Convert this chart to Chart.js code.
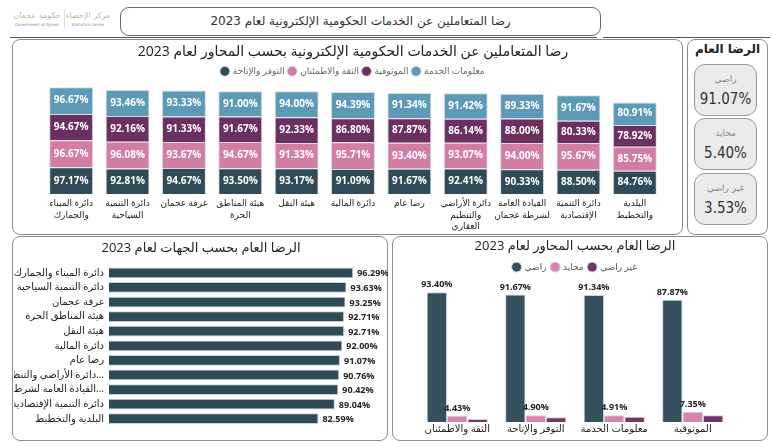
<!DOCTYPE html>
<html>
<head>
<meta charset="utf-8">
<script src="https://cdn.jsdelivr.net/npm/chart.js@4.4.0/dist/chart.umd.min.js"></script>
<style>
body{margin:0;background:#fff;width:772px;height:447px;position:relative;overflow:hidden;font-family:'Segoe UI','DejaVu Sans',sans-serif}
.box{position:absolute;border:1px solid #8c8c8c;border-radius:8px;box-sizing:border-box;background:#fff}
canvas{position:absolute}
.hline{position:absolute;height:1px;background:#555}
.logo{position:absolute;color:#c6b89b;font-size:8px;text-align:center;line-height:12px;white-space:nowrap}
.logo small{display:block;font-size:4px;line-height:6px;color:#888}
#title{left:120px;top:7px;width:481px;height:29px;border-color:#666;border-radius:9px;text-align:center;line-height:27px;font-size:12px;color:#333}
.kpiTitle{position:absolute;left:687px;top:42px;width:81px;text-align:center;font-weight:bold;font-size:12px;color:#222}
.card{position:absolute;left:694px;width:63px;height:52px;background:#ebebeb;border:1px solid #9a9a9a;border-radius:11px;box-sizing:border-box;text-align:center}
.card .lab{margin-top:9px;font-size:9px;color:#8a8a8a;height:14px}
.card .val{margin-top:2px;font-family:'Liberation Sans Narrow','DejaVu Sans Condensed',sans-serif;font-size:15px;color:#333}
</style>
</head>
<body>
<div class="logo" style="left:12px;top:10px;width:50px">حكومة عجمان<small>Government of Ajman</small></div>
<div class="logo" style="left:64px;top:10px;width:46px;border-left:1px solid #ddd">مركز الإحصاء<small>Statistics Center</small></div>
<div class="box" id="title">رضا المتعاملين عن الخدمات الحكومية الإلكترونية لعام 2023</div>
<div class="hline" style="left:10px;top:37px;width:587px"></div>
<div class="hline" style="left:603px;top:37px;width:167px"></div>

<div class="box" style="left:12px;top:39px;width:671px;height:196px"></div>
<div class="box" style="left:687px;top:39px;width:81px;height:196px"></div>
<div class="box" style="left:12px;top:236px;width:376px;height:205px"></div>
<div class="box" style="left:392px;top:236px;width:376px;height:205px"></div>

<canvas id="topChart" width="667" height="196" style="left:14px;top:40px"></canvas>
<canvas id="entityChart" width="374" height="200" style="left:14px;top:237px"></canvas>
<canvas id="axisChart" width="372" height="200" style="left:394px;top:237px"></canvas>

<div class="kpiTitle">الرضا العام</div>
<div id="kpis"></div>

<script>
// محاور الرضا لكل جهة
var topCategories = [
    ['دائرة الميناء', 'والجمارك'],
    ['دائرة التنمية', 'السياحية'],
    ['غرفة عجمان'],
    ['هيئة المناطق', 'الحرة'],
    ['هيئة النقل'],
    ['دائرة المالية'],
    ['رضا عام'],
    ['دائرة الأراضي', 'والتنظيم', 'العقاري'],
    ['القيادة العامة', 'لشرطة عجمان'],
    ['دائرة التنمية', 'الإقتصادية'],
    ['البلدية', 'والتخطيط']
]
var topSeries = ['التوفر والإتاحة', 'الثقة والاطمئنان', 'الموثوقية', 'معلومات الخدمة']
var availability = [97.17, 92.81, 94.67, 93.50, 93.17, 91.09, 91.67, 92.41, 90.33, 88.50, 84.76]
var trust = [96.67, 96.08, 93.67, 94.67, 91.33, 95.71, 93.40, 93.07, 94.00, 95.67, 85.75]
var reliability = [94.67, 92.16, 91.33, 91.67, 92.33, 86.80, 87.87, 86.14, 88.00, 80.33, 78.92]
var serviceInfo = [96.67, 93.46, 93.33, 91.00, 94.00, 94.39, 91.34, 91.42, 89.33, 91.67, 80.91]

// الرضا العام بحسب الجهات
var entities = ['دائرة الميناء والجمارك', 'دائرة التنمية السياحية', 'غرفة عجمان', 'هيئة المناطق الحرة',
    'هيئة النقل', 'دائرة المالية', 'رضا عام', 'دائرة الأراضي والتنظيم العقاري',
    'القيادة العامة لشرطة عجمان', 'دائرة التنمية الإقتصادية', 'البلدية والتخطيط']
var entityScores = [96.29, 93.63, 93.25, 92.71, 92.71, 92.00, 91.07, 90.76, 90.42, 89.04, 82.59]

// الرضا العام بحسب المحاور
var axesNames = ['الثقة والاطمئنان', 'التوفر والإتاحة', 'معلومات الخدمة', 'الموثوقية']
var satisfied = [93.40, 91.67, 91.34, 87.87]
var neutral = [4.43, 4.90, 4.91, 7.35]
var unsatisfied = [2.17, 3.43, 3.75, 4.78]

var kpiLabels = ['راضي', 'محايد', 'غير راضي']
var kpiValues = [91.07, 5.40, 3.53]

var F = "'Segoe UI', 'Open Sans', 'DejaVu Sans', sans-serif"

// البطاقات
var kpiTops = [64, 118, 173]
var html = ''
for (var i = 0; i < kpiLabels.length; i++) {
    html += '<div class="card" style="top:' + kpiTops[i] + 'px"><div class="lab">' + kpiLabels[i] +
        '</div><div class="val">' + kpiValues[i].toFixed(2) + '%</div></div>'
}
document.getElementById('kpis').innerHTML = html

// نصوص القيم على الأعمدة
var barLabels = {
    id: 'barLabels',
    afterDatasetsDraw: function (chart, args, opts) {
        var ctx = chart.ctx
        ctx.save()
        ctx.font = opts.font
        ctx.fillStyle = opts.color
        chart.data.datasets.forEach(function (ds, i) {
            if (ds.noLabel) return
            chart.getDatasetMeta(i).data.forEach(function (bar, j) {
                var t = ds.data[j].toFixed(2) + '%'
                if (opts.mode == 'center') {
                    ctx.textAlign = 'center'; ctx.textBaseline = 'middle'
                    ctx.fillText(t, bar.x, (bar.y + bar.base) / 2)
                } else if (opts.mode == 'right') {
                    ctx.textAlign = 'left'; ctx.textBaseline = 'middle'
                    ctx.fillText(t, bar.x + 4, bar.y + 1)
                } else {
                    ctx.textAlign = 'center'; ctx.textBaseline = 'bottom'
                    ctx.fillText(t, bar.x, bar.y - 3)
                }
            })
        })
        ctx.restore()
    }
}

var topColors = ['#2f4b58', '#d17da5', '#6b2f60', '#5d9ab7']
var topData = [availability, trust, reliability, serviceInfo]

new Chart(document.getElementById('topChart'), {
    type: 'bar',
    data: {
        labels: topCategories,
        datasets: topData.map(function (d, i) {
            return { label: topSeries[i], data: d, backgroundColor: topColors[i] }
        })
    },
    options: {
        responsive: false,
        animation: false,
        layout: { padding: { left: 29, right: 18 } },
        datasets: { bar: { categoryPercentage: 1, barPercentage: 0.78, borderWidth: 1, borderColor: '#d3dde4' } },
        scales: {
            x: {
                stacked: true,
                grid: { display: false, drawTicks: false },
                border: { display: false },
                ticks: { color: '#222', font: { size: 9, family: F, lineHeight: 1.25 }, padding: 4, maxRotation: 0, autoSkip: false }
            },
            y: { stacked: true, display: false, min: 0, max: 390 }
        },
        plugins: {
            title: {
                display: true,
                text: 'رضا المتعاملين عن الخدمات الحكومية الإلكترونية بحسب المحاور لعام 2023',
                color: '#222',
                font: { size: 14, weight: 'normal', family: F },
                padding: { top: 4, bottom: 2 }
            },
            legend: {
                labels: { usePointStyle: true, pointStyle: 'circle', boxWidth: 7, boxHeight: 7, color: '#666', font: { size: 9, family: F }, padding: 4 }
            },
            tooltip: { enabled: false },
            barLabels: { mode: 'center', color: '#fff', font: 'bold 10px ' + F }
        }
    },
    plugins: [barLabels]
})

new Chart(document.getElementById('entityChart'), {
    type: 'bar',
    data: {
        labels: entities,
        datasets: [{ label: 'الرضا العام', data: entityScores, backgroundColor: '#2e4a57' }]
    },
    options: {
        indexAxis: 'y',
        responsive: false,
        animation: false,
        layout: { padding: { left: 0, right: 0, bottom: 7 } },
        datasets: { bar: { categoryPercentage: 1, barPercentage: 0.74, borderWidth: 1, borderColor: '#c5d0d7' } },
        scales: {
            x: { display: false, min: 0, max: 110 },
            y: {
                grid: { display: false, drawTicks: false },
                border: { display: false },
                afterFit: function (s) { s.width = 95 },
                ticks: {
                    color: '#222', font: { size: 10, family: F }, padding: 5, autoSkip: false,
                    callback: function (v) {
                        var s = this.getLabelForValue(v)
                        return s.length > 24 ? s.slice(0, 20) + '...' : s
                    }
                }
            }
        },
        plugins: {
            title: {
                display: true,
                text: 'الرضا العام بحسب الجهات لعام 2023',
                color: '#222',
                font: { size: 13, weight: 'normal', family: F },
                padding: { top: 3, bottom: 10 }
            },
            legend: { display: false },
            tooltip: { enabled: false },
            barLabels: { mode: 'right', color: '#222', font: 'bold 9px ' + F }
        }
    },
    plugins: [barLabels]
})

new Chart(document.getElementById('axisChart'), {
    type: 'bar',
    data: {
        labels: axesNames,
        datasets: [
            { label: 'راضي', data: satisfied, backgroundColor: '#34515d' },
            { label: 'محايد', data: neutral, backgroundColor: '#d683ad' },
            { label: 'غير راضي', data: unsatisfied, backgroundColor: '#723564', noLabel: true }
        ]
    },
    options: {
        responsive: false,
        animation: false,
        layout: { padding: { left: 24, right: 34, bottom: 1 } },
        datasets: { bar: { categoryPercentage: 0.78, barPercentage: 1, borderWidth: 1, borderColor: '#c9d2d8' } },
        scales: {
            x: {
                grid: { display: false, drawTicks: false },
                border: { display: false },
                ticks: { color: '#222', font: { size: 10, family: F }, padding: 1 }
            },
            y: { display: false, min: 0, max: 101 }
        },
        plugins: {
            title: {
                display: true,
                text: 'الرضا العام بحسب المحاور لعام 2023',
                color: '#222',
                font: { size: 13, weight: 'normal', family: F },
                padding: { top: 1, bottom: 4 }
            },
            legend: {
                labels: { usePointStyle: true, pointStyle: 'circle', boxWidth: 7, boxHeight: 7, color: '#555', font: { size: 9, family: F }, padding: 5 }
            },
            tooltip: { enabled: false },
            barLabels: { mode: 'top', color: '#222', font: 'bold 9px ' + F }
        }
    },
    plugins: [barLabels]
})
</script>
</body>
</html>
